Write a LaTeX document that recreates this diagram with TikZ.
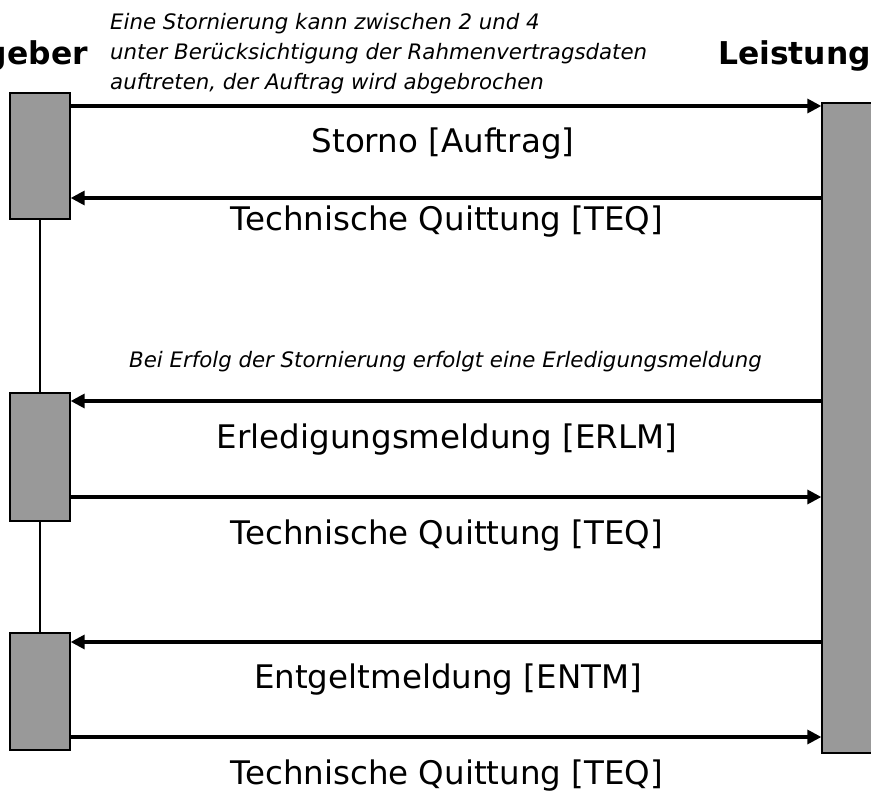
\documentclass[tikz,border=0pt]{standalone}
\usepackage{fontspec}
\setmainfont{DejaVu Sans}
\usepackage{tikz}
\usetikzlibrary{arrows.meta,calc,positioning}
\definecolor{grau}{RGB}{153,153,153}
\tikzset{
  akt/.style={draw=black,line width=1.3pt,fill=grau,minimum width=60pt,inner sep=0pt},
  msg/.style={line width=3.2pt,-{Triangle[length=14pt,width=14pt]}},
  lbl/.style={font=\fontsize{32.5}{38}\selectfont,anchor=base,inner sep=0pt},
  note/.style={font=\fontsize{21.3}{30}\selectfont\itshape,inner sep=0pt,align=left},
  head/.style={font=\fontsize{31.4}{37}\selectfont\bfseries,inner sep=0pt}
}

\begin{document}
\begin{tikzpicture}[x=1pt,y=-1pt]
\useasboundingbox[fill=white] (0,0) rectangle (871,792);
\node[akt,minimum height=126pt] (A1) at (40,156) {};
\node[akt,minimum height=128pt] (A2) at (40,457) {};
\node[akt,minimum height=117pt] (A3) at (40,691.5) {};
\node[akt,minimum width=80pt,minimum height=650pt] (L) at (862,428) {};
\draw[line width=1.2pt] (A1.south) -- (A2.north) (A2.south) -- (A3.north);
\node[head,anchor=base east] (ag) at (88,65) {geber};
\node[head,anchor=base west] (le) at (718,65) {Leistung};
\node[note,anchor=base west] (n1) at (110,90) {Eine Stornierung kann zwischen 2 und 4\\unter Berücksichtigung der Rahmenvertragsdaten\\auftreten, der Auftrag wird abgebrochen};
\node[note,anchor=base west] (n2) at (129,367) {Bei Erfolg der Stornierung erfolgt eine Erledigungsmeldung};
\draw[msg] (A1.east |- 0,106) -- (L.west |- 0,106);
\draw[msg] (L.west |- 0,198) -- (A1.east |- 0,198);
\draw[msg] (L.west |- 0,401) -- (A2.east |- 0,401);
\draw[msg] (A2.east |- 0,497) -- (L.west |- 0,497);
\draw[msg] (L.west |- 0,642) -- (A3.east |- 0,642);
\draw[msg] (A3.east |- 0,737) -- (L.west |- 0,737);
\node[lbl] (m1) at (443,153) {Storno [Auftrag]};
\node[lbl] (m2) at (447,230) {Technische Quittung [TEQ]};
\node[lbl] (m3) at (447,448) {Erledigungsmeldung [ERLM]};
\node[lbl] (m4) at (447,544) {Technische Quittung [TEQ]};
\node[lbl] (m5) at (448,688) {Entgeltmeldung [ENTM]};
\node[lbl] (m6) at (447,784) {Technische Quittung [TEQ]};
\end{tikzpicture}
\end{document}
